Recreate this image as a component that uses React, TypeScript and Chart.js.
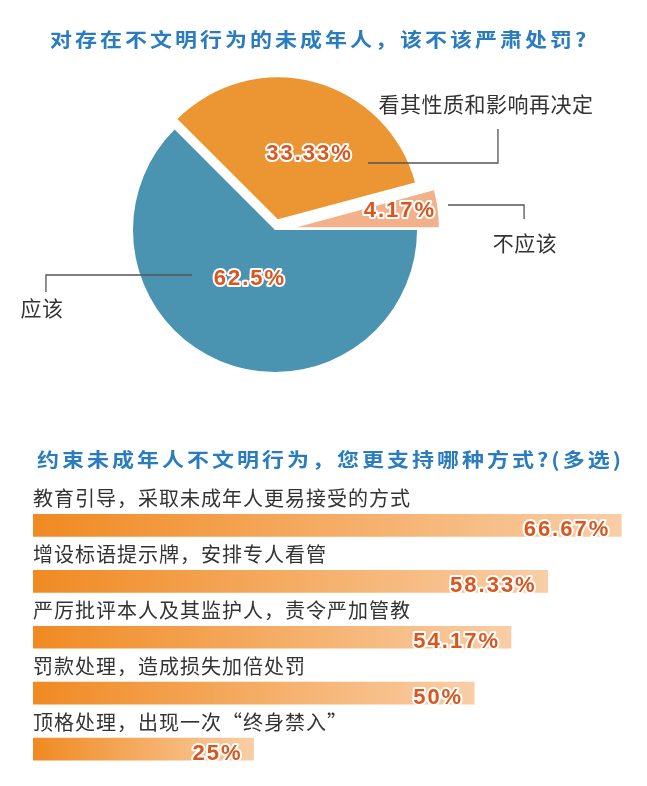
import React, { useEffect, useRef } from 'react';
import { Chart, registerables } from 'chart.js';

Chart.register(...registerables);

// ---------- data ----------
const TITLE_PIE = '对存在不文明行为的未成年人，该不该严肃处罚?';
const PIE_LABELS = ['应该', '看其性质和影响再决定', '不应该'];
const PIE_VALUES = [62.5, 33.33, 4.17];
const PIE_COLORS = ['#4a93b1', '#ec9533', '#f2b08b'];

const TITLE_BAR = '约束未成年人不文明行为，您更支持哪种方式?(多选)';
const BAR_LABELS = [
  '教育引导，采取未成年人更易接受的方式',
  '增设标语提示牌，安排专人看管',
  '严厉批评本人及其监护人，责令严加管教',
  '罚款处理，造成损失加倍处罚',
  '顶格处理，出现一次“终身禁入”',
];
const BAR_VALUES = [66.67, 58.33, 54.17, 50, 25];

// ---------- styling ----------
const BLUE_TITLE = '#2a7cc0';
const VALUE_RED = '#d9561f';
const TEXT_DARK = '#333333';
const CJK = '"Noto Sans CJK SC", "Noto Sans", sans-serif';
const NUM_FONT = 'bold 22px "Liberation Sans", Arial, sans-serif';

const EXPLODE = [0, 11, 22];
const PIE_LABEL_POS = [
  { r: 0.39, da: 4.5 },
  { r: 0.51, da: 11 },
  { r: 0.735, da: -1.4 },
];
// leader lines in radius units relative to the pie centre
const LEADERS = [
  { pts: [[-0.585, 0.317], [-1.613, 0.317], [-1.613, 0.437]], text: [-1.641, 0.549] },
  { pts: [[0.655, -0.472], [1.57, -0.472], [1.57, -0.711]], text: [1.486, -0.887] },
  { pts: [[1.218, -0.176], [1.754, -0.176], [1.754, -0.077]], text: [1.761, 0.092] },
];

function outlinedValue(ctx: CanvasRenderingContext2D, text: string, x: number, y: number, align: CanvasTextAlign, baseline: CanvasTextBaseline) {
  ctx.save();
  ctx.font = NUM_FONT;
  (ctx as any).letterSpacing = '2px';
  ctx.textAlign = align;
  ctx.textBaseline = baseline;
  ctx.lineJoin = 'round';
  ctx.lineWidth = 4;
  ctx.strokeStyle = '#ffffff';
  ctx.strokeText(text, x, y);
  ctx.fillStyle = VALUE_RED;
  ctx.fillText(text, x, y);
  ctx.restore();
}

const pieExplode = {
  id: 'pieExplode',
  afterDatasetsUpdate(chart: any) {
    const meta = chart.getDatasetMeta(0);
    meta.data.forEach((arc: any, i: number) => {
      const mid = (arc.startAngle + arc.endAngle) / 2;
      arc.x += Math.cos(mid) * EXPLODE[i];
      arc.y += Math.sin(mid) * EXPLODE[i];
    });
  },
};

const pieDecor = {
  id: 'pieDecor',
  afterDatasetsDraw(chart: any) {
    const ctx: CanvasRenderingContext2D = chart.ctx;
    const area = chart.chartArea;
    const cx = (area.left + area.right) / 2;
    const cy = (area.top + area.bottom) / 2;
    const meta = chart.getDatasetMeta(0);
    const R = meta.data[0].outerRadius;
    const labels = chart.data.labels as string[];
    const values = chart.data.datasets[0].data as number[];

    ctx.save();
    ctx.strokeStyle = '#555555';
    ctx.lineWidth = 1.3;
    LEADERS.forEach((ld, i) => {
      ctx.beginPath();
      ld.pts.forEach((p, k) => {
        const x = cx + p[0] * R;
        const y = cy + p[1] * R;
        if (k === 0) ctx.moveTo(x, y);
        else ctx.lineTo(x, y);
      });
      ctx.stroke();
      ctx.font = `21px ${CJK}`;
      (ctx as any).letterSpacing = '0.5px';
      ctx.fillStyle = TEXT_DARK;
      ctx.textAlign = 'center';
      ctx.textBaseline = 'middle';
      ctx.fillText(labels[i], cx + ld.text[0] * R, cy + ld.text[1] * R);
    });
    ctx.restore();

    meta.data.forEach((arc: any, i: number) => {
      const pos = PIE_LABEL_POS[i];
      const a = (arc.startAngle + arc.endAngle) / 2 + (pos.da * Math.PI) / 180;
      const x = arc.x + Math.cos(a) * pos.r * arc.outerRadius;
      const y = arc.y + Math.sin(a) * pos.r * arc.outerRadius;
      outlinedValue(ctx, `${values[i]}%`, x, y, 'center', 'middle');
    });
  },
};

const barDecor = {
  id: 'barDecor',
  afterDatasetsDraw(chart: any) {
    const ctx: CanvasRenderingContext2D = chart.ctx;
    const meta = chart.getDatasetMeta(0);
    const labels = chart.data.labels as string[];
    const values = chart.data.datasets[0].data as number[];
    meta.data.forEach((bar: any, i: number) => {
      const h = bar.height;
      ctx.save();
      ctx.font = `20px ${CJK}`;
      (ctx as any).letterSpacing = '1px';
      ctx.fillStyle = TEXT_DARK;
      ctx.textAlign = 'left';
      ctx.textBaseline = 'middle';
      ctx.fillText(labels[i], bar.base, bar.y - 27);
      ctx.restore();
      outlinedValue(ctx, `${values[i]}%`, bar.x - 11, bar.y + h / 2, 'right', 'alphabetic');
    });
  },
};

function barGradient(c: any) {
  const chart = c.chart;
  const xs = chart.scales && chart.scales.x;
  if (!xs || c.type !== 'data') return '#f3a35c';
  const x0 = xs.getPixelForValue(0);
  const x1 = xs.getPixelForValue(c.raw);
  if (!isFinite(x0) || !isFinite(x1) || x1 <= x0) return '#f3a35c';
  const g = chart.ctx.createLinearGradient(x0, 0, x1, 0);
  g.addColorStop(0, '#f08a22');
  g.addColorStop(1, '#f9cea6');
  return g;
}

function PieChart() {
  const ref = useRef<HTMLCanvasElement>(null);
  useEffect(() => {
    if (!ref.current) return;
    const chart = new Chart(ref.current, {
      type: 'pie',
      data: {
        labels: PIE_LABELS,
        datasets: [
          {
            data: PIE_VALUES,
            backgroundColor: PIE_COLORS,
            borderWidth: 0,
            hoverOffset: 0,
          },
        ],
      },
      options: {
        responsive: false,
        animation: false,
        devicePixelRatio: 1,
        rotation: 90,
        layout: { padding: { left: 133, right: 230, top: 88, bottom: 28 } },
        plugins: { legend: { display: false }, tooltip: { enabled: false } },
        events: [],
      },
      plugins: [pieExplode, pieDecor],
    } as any);
    return () => chart.destroy();
  }, []);
  return <canvas ref={ref} width={647} height={400} style={{ position: 'absolute', left: 0, top: 0 }} />;
}

function BarChart() {
  const ref = useRef<HTMLCanvasElement>(null);
  useEffect(() => {
    if (!ref.current) return;
    const chart = new Chart(ref.current, {
      type: 'bar',
      data: {
        labels: BAR_LABELS,
        datasets: [
          {
            data: BAR_VALUES,
            borderWidth: 0,
            barThickness: 22,
            backgroundColor: barGradient,
          },
        ],
      },
      options: {
        indexAxis: 'y',
        responsive: false,
        animation: false,
        devicePixelRatio: 1,
        layout: { padding: { left: 33, right: 14, top: 27.5, bottom: 9 } },
        scales: {
          x: { display: false, min: 0, max: 68 },
          y: { display: false },
        },
        plugins: { legend: { display: false }, tooltip: { enabled: false } },
        events: [],
      },
      plugins: [barDecor],
    } as any);
    return () => chart.destroy();
  }, []);
  return <canvas ref={ref} width={647} height={316} style={{ position: 'absolute', left: 0, top: 470 }} />;
}

const titleStyle = (left: number, top: number): React.CSSProperties => ({
  position: 'absolute',
  left,
  top,
  font: `bold 22px ${CJK}`,
  lineHeight: '22px',
  letterSpacing: '3px',
  color: BLUE_TITLE,
  whiteSpace: 'nowrap',
  transform: 'scaleY(0.88)',
  transformOrigin: '0 50%',
});

export default function App() {
  return (
    <div style={{ position: 'absolute', left: 0, top: 0, width: 647, height: 786, background: '#ffffff', overflow: 'hidden' }}>
      <PieChart />
      <BarChart />
      <div style={titleStyle(50, 27)}>{TITLE_PIE}</div>
      <div style={titleStyle(37, 447)}>{TITLE_BAR}</div>
    </div>
  );
}
